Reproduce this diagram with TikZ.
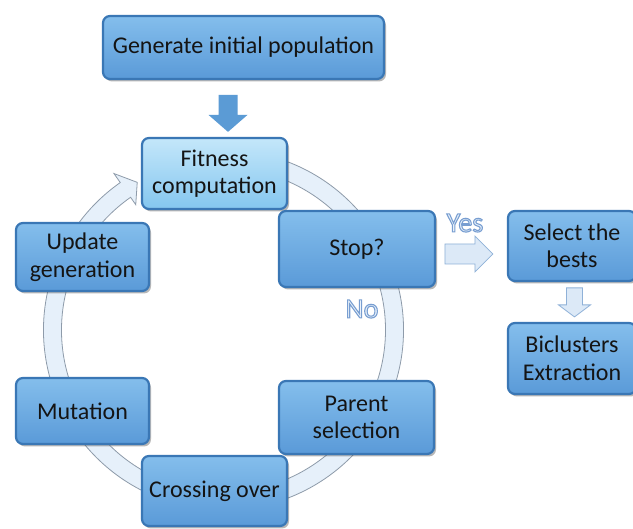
\documentclass[tikz,border=0pt]{standalone}
\usepackage{fontspec}
\setmainfont{Carlito}
\usetikzlibrary{calc,shadows}
\definecolor{boxtop}{HTML}{84BEEC}
\definecolor{boxbot}{HTML}{5A9AD8}
\definecolor{boxedge}{HTML}{3A77B5}
\definecolor{fittop}{HTML}{C4E7FA}
\definecolor{fitbot}{HTML}{84C6EF}
\definecolor{ringfill}{HTML}{E6F0FA}
\definecolor{ringedge}{HTML}{8E9BAA}
\definecolor{arrblue}{HTML}{5B9BD5}
\definecolor{lightarr}{HTML}{DCE9F7}
\definecolor{lightedge}{HTML}{8FB1D8}
\definecolor{labfill}{HTML}{EAF2FB}
\definecolor{txt}{HTML}{141414}
\newcommand\wordart[1]{\leavevmode\textcolor{labfill}{\special{pdf:literal direct 2 Tr 1.1 w 0.47 0.62 0.82 RG}#1\special{pdf:literal direct 0 Tr}}}
\begin{document}
\begin{tikzpicture}[x=1pt,y=1pt,
  box/.style={rounded corners=7pt, draw=boxedge, line width=2.2pt,
    top color=boxtop, bottom color=boxbot, text=txt, align=center,
    font=\fontsize{24}{27.5}\selectfont, inner sep=0pt,
    drop shadow={shadow xshift=2pt,shadow yshift=-2.5pt,opacity=0.4,fill=black!70}},
  fitbox/.style={box, top color=fittop, bottom color=fitbot},
  ring/.style={fill=ringfill, draw=ringedge, line width=0.8pt, line join=miter},
  bluearrow/.style={fill=arrblue, draw=none},
  lightarrow/.style={fill=lightarr, draw=lightedge, line width=0.8pt},
  lab/.style={font=\fontsize{28}{30}\selectfont, inner sep=0pt}]
\useasboundingbox (0,0) rectangle (633,529);
\clip (0,0) rectangle (633,529);
\fill[white] (0,0) rectangle (633,529);
% cycle ring
\coordinate (c) at (223.5,199);
\path[ring, shift={(c)}] (75:180) arc[start angle=75, end angle=-235, radius=180]
  -- (-235:191) -- (-239.7:171) -- (-235:153) -- (-235:162)
  arc[start angle=-235, end angle=75, radius=162] -- cycle;
% boxes
\node[box, minimum width=281, minimum height=63] (gen) at (243.5,481.5) {Generate initial population};
\node[fitbox, minimum width=145, minimum height=71] (fit) at (214.5,355.5) {Fitness\\computation};
\node[box, minimum width=156, minimum height=76] (stop) at (357,280) {Stop?};
\node[box, minimum width=128, minimum height=70] (sel) at (572,283) {Select the\\bests};
\node[box, minimum width=128, minimum height=71] (bic) at (572,170.5) {Biclusters\\Extraction};
\node[box, minimum width=155, minimum height=73] (par) at (356.5,111.5) {Parent\\selection};
\node[box, minimum width=145, minimum height=70] (cro) at (214.5,38) {Crossing over};
\node[box, minimum width=133, minimum height=66] (mut) at (82.5,118) {Mutation};
\node[box, minimum width=133, minimum height=68] (upd) at (82.5,272) {Update\\generation};
% block arrows
\coordinate (a1) at ($(fit.north)+(13.5,5)$);
\path[bluearrow] (a1) -- ++(19.5,17) -- ++(-10,0) -- ++(0,20) -- ++(-19,0) -- ++(0,-20) -- ++(-10,0) -- cycle;
\coordinate (a2) at ($(sel.west)+(-14,-8)$);
\path[lightarrow] (a2) -- ++(-18,18) -- ++(0,-8) -- ++(-30,0) -- ++(0,-20) -- ++(30,0) -- ++(0,-8) -- cycle;
\coordinate (a3) at ($(bic.north)+(2.5,5)$);
\path[lightarrow] (a3) -- ++(16,12) -- ++(-8,0) -- ++(0,17) -- ++(-16,0) -- ++(0,-17) -- ++(-8,0) -- cycle;
% labels
\node[lab] (yes) at (465,306) {\wordart{Yes}};
\node[lab] (no) at (362,220) {\wordart{No}};
\end{tikzpicture}
\end{document}
